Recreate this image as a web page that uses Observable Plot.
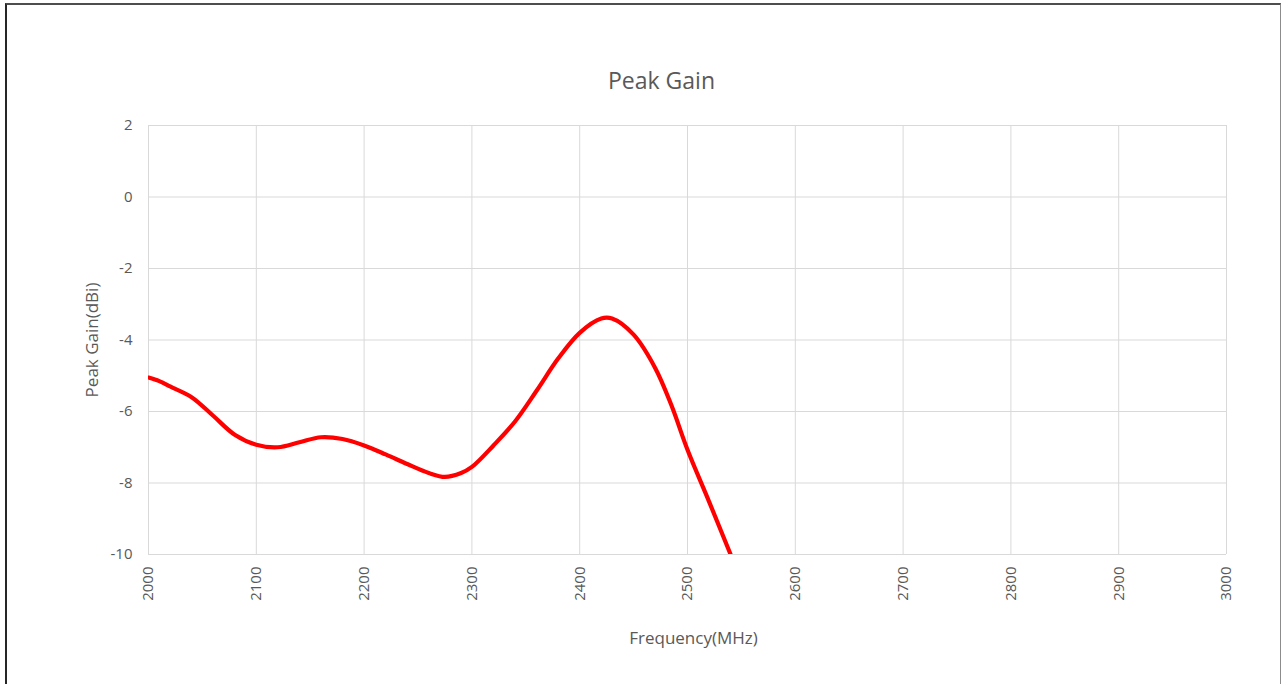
<!DOCTYPE html>
<html>
<head>
<meta charset="utf-8">
<script src="https://cdn.jsdelivr.net/npm/d3@7"></script>
<script src="https://cdn.jsdelivr.net/npm/@observablehq/plot@0.6"></script>
<style>
  html, body { margin: 0; padding: 0; background: #fff; }
  #wrap { position: relative; width: 1281px; height: 684px; overflow: hidden; }
  #frame { position: absolute; left: 5px; top: 3px; width: 1273px; height: 700px;
           border-left: 2px solid #262626; border-top: 2px solid #4d4d4d; border-right: 1px solid #8c8c8c;
           pointer-events: none; }
  #chart { position: absolute; left: 0; top: 0; }
</style>
</head>
<body>
<div id="wrap"><div id="chart"></div><div id="frame"></div></div>
<script>
const chartTitle = "Peak Gain";
const xLabel = "Frequency(MHz)";
const yLabel = "Peak Gain(dBi)";
const xTicks = [2000, 2100, 2200, 2300, 2400, 2500, 2600, 2700, 2800, 2900, 3000];
const yTicks = [2, 0, -2, -4, -6, -8, -10];
const freq = [2000, 2010, 2020, 2040, 2060, 2080, 2100, 2120, 2140, 2160, 2180, 2200, 2220, 2240, 2260, 2275, 2290, 2300, 2320, 2340, 2360, 2380, 2400, 2420, 2430, 2450, 2470, 2485, 2500, 2520, 2540];
const gain = [-5.05, -5.15, -5.3, -5.6, -6.12, -6.65, -6.93, -7.0, -6.86, -6.72, -6.77, -6.95, -7.2, -7.47, -7.72, -7.83, -7.72, -7.55, -6.95, -6.28, -5.42, -4.52, -3.8, -3.4, -3.4, -3.85, -4.78, -5.82, -7.07, -8.52, -10.0];

const data = freq.map((f, i) => ({f, g: gain[i]}));
const textColor = "#595959";
const font = "'Open Sans', sans-serif";

const plot = Plot.plot({
  width: 1281,
  height: 684,
  marginLeft: 148,
  marginRight: 55,
  marginTop: 125,
  marginBottom: 130,
  style: {fontFamily: font, color: textColor, background: "transparent"},
  x: {domain: [2000, 3000]},
  y: {domain: [-10, 2]},
  marks: [
    Plot.gridX(xTicks, {stroke: "#d9d9d9", strokeOpacity: 1, strokeWidth: 1}),
    Plot.gridY(yTicks, {stroke: "#d9d9d9", strokeOpacity: 1, strokeWidth: 1}),
    Plot.axisX(xTicks, {tickSize: 0, tickPadding: 12, tickRotate: -90, fontSize: 15, label: null, tickFormat: d => String(d)}),
    Plot.axisY(yTicks, {tickSize: 0, tickPadding: 16, fontSize: 15, label: null, tickFormat: d => String(d)}),
    Plot.line(data, {x: "f", y: "g", stroke: "#ff0000", strokeWidth: 4.2, curve: "catmull-rom", clip: true}),
    Plot.text([chartTitle], {frameAnchor: "top", textAnchor: "middle", dy: -53, dx: -26, fontSize: 23, fill: textColor}),
    Plot.text([xLabel], {frameAnchor: "bottom", textAnchor: "middle", dy: 89, dx: 6, fontSize: 17, fill: textColor}),
    Plot.text([yLabel], {frameAnchor: "left", textAnchor: "middle", dx: -56, rotate: -90, fontSize: 17, fill: textColor})
  ]
});
document.getElementById("chart").append(plot);
</script>
</body>
</html>
